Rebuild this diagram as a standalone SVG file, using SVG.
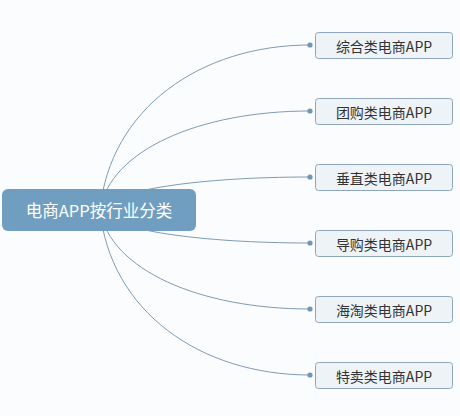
<svg xmlns="http://www.w3.org/2000/svg" width="460" height="416" viewBox="0 0 460 416">
<style>
.bg{fill:#fbfcfd}
.conn{fill:none;stroke:#7f9bb4;stroke-width:1}
.dot{fill:#6f96b5}
.child rect{fill:#eef3f8;stroke:#8ea5bb;stroke-width:1}
.child text{font-family:"Noto Sans CJK SC","Microsoft YaHei",sans-serif;font-size:14px;fill:#333333;text-anchor:middle;dominant-baseline:central}
.root rect{fill:#709ec0}
.root text{font-family:"Noto Sans CJK SC","Microsoft YaHei",sans-serif;font-size:16.5px;fill:#ffffff;text-anchor:middle;dominant-baseline:central}
</style>
<rect class="bg" x="0" y="0" width="460" height="416"/>
<g id="connectors">
<path class="conn" d="M100,210 C110,109 200,45 310,45"/>
<path class="conn" d="M100,210 C110,150 200,111 310,111"/>
<path class="conn" d="M100,210 C110,190 200,177 310,177"/>
<path class="conn" d="M100,210 C110,230 200,243 310,243"/>
<path class="conn" d="M100,210 C110,270 200,309 310,309"/>
<path class="conn" d="M100,210 C110,311 200,375 310,375"/>
<circle class="dot" cx="310" cy="45" r="2.6"/>
<circle class="dot" cx="310" cy="111" r="2.6"/>
<circle class="dot" cx="310" cy="177" r="2.6"/>
<circle class="dot" cx="310" cy="243" r="2.6"/>
<circle class="dot" cx="310" cy="309" r="2.6"/>
<circle class="dot" cx="310" cy="375" r="2.6"/>
</g>
<g id="root" class="root">
<rect x="2" y="189" width="194" height="42" rx="6"/>
<text x="99" y="210">电商APP按行业分类</text>
</g>
<g id="n1" class="child"><rect x="315.5" y="32.5" width="137" height="26" rx="3"/><text x="384" y="45.5">综合类电商APP</text></g>
<g id="n2" class="child"><rect x="315.5" y="98.5" width="137" height="26" rx="3"/><text x="384" y="111.5">团购类电商APP</text></g>
<g id="n3" class="child"><rect x="315.5" y="164.5" width="137" height="26" rx="3"/><text x="384" y="177.5">垂直类电商APP</text></g>
<g id="n4" class="child"><rect x="315.5" y="230.5" width="137" height="26" rx="3"/><text x="384" y="243.5">导购类电商APP</text></g>
<g id="n5" class="child"><rect x="315.5" y="296.5" width="137" height="26" rx="3"/><text x="384" y="309.5">海淘类电商APP</text></g>
<g id="n6" class="child"><rect x="315.5" y="362.5" width="137" height="26" rx="3"/><text x="384" y="375.5">特卖类电商APP</text></g>
</svg>
